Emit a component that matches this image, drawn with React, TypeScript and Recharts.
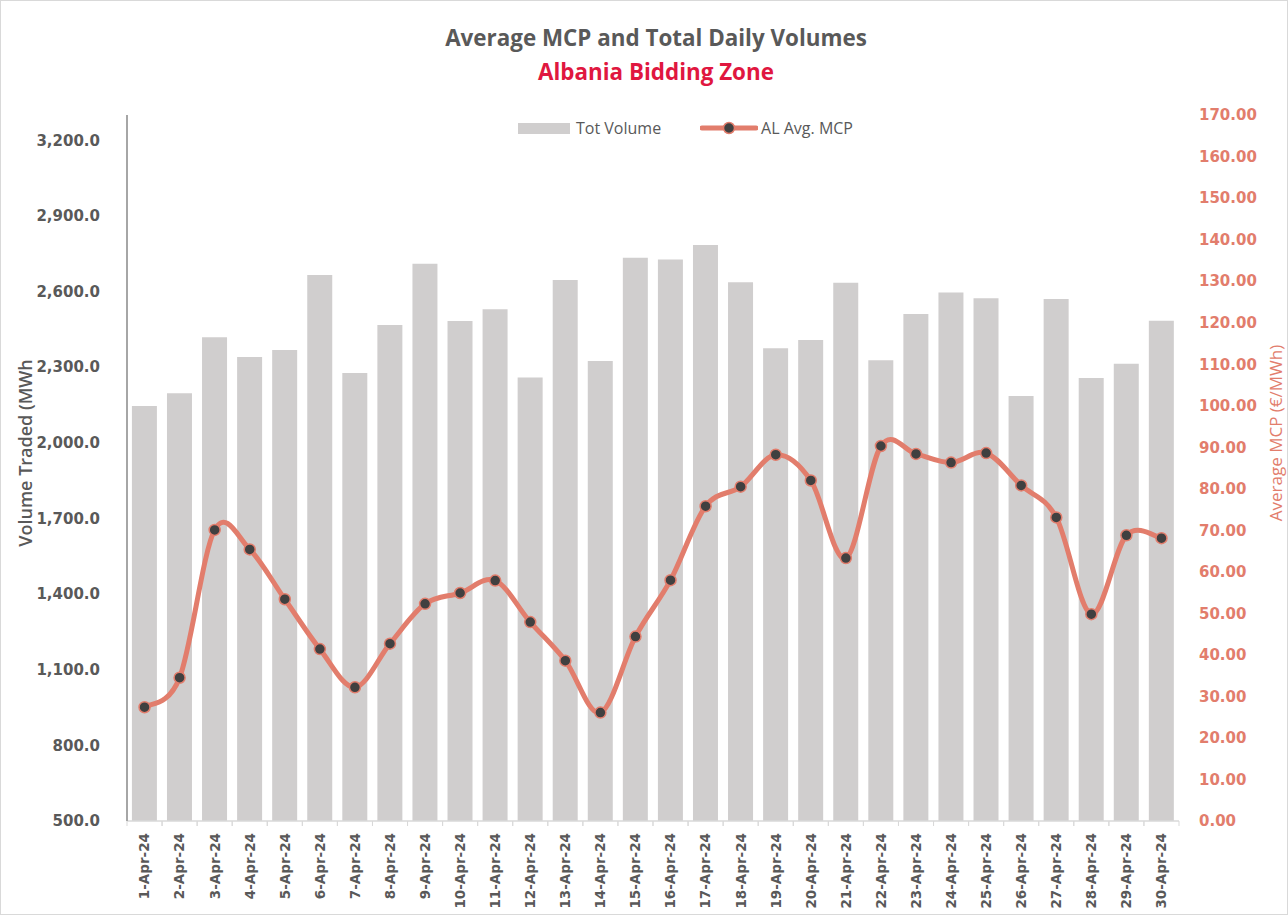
import { ComposedChart, Bar, Line, XAxis, YAxis } from "recharts";

const days = [
  "1-Apr-24", "2-Apr-24", "3-Apr-24", "4-Apr-24", "5-Apr-24", "6-Apr-24",
  "7-Apr-24", "8-Apr-24", "9-Apr-24", "10-Apr-24", "11-Apr-24", "12-Apr-24",
  "13-Apr-24", "14-Apr-24", "15-Apr-24", "16-Apr-24", "17-Apr-24", "18-Apr-24",
  "19-Apr-24", "20-Apr-24", "21-Apr-24", "22-Apr-24", "23-Apr-24", "24-Apr-24",
  "25-Apr-24", "26-Apr-24", "27-Apr-24", "28-Apr-24", "29-Apr-24", "30-Apr-24",
];

const totVolume = [
  2146, 2196, 2419, 2340, 2368, 2665, 2277, 2467, 2710, 2483, 2530, 2259, 2646,
  2324, 2734, 2727, 2784, 2637, 2375, 2408, 2635, 2327, 2511, 2596, 2573, 2186,
  2570, 2257, 2313, 2484,
];

const avgMcp = [
  27.4, 34.5, 70.1, 65.4, 53.4, 41.4, 32.2, 42.7, 52.3, 54.9, 57.9, 47.9, 38.6,
  26.1, 44.4, 58.0, 75.8, 80.5, 88.2, 82.0, 63.3, 90.3, 88.4, 86.3, 88.6, 80.8,
  73.1, 49.8, 68.8, 68.1,
];

const volumeTicks = [500, 800, 1100, 1400, 1700, 2000, 2300, 2600, 2900, 3200];
const mcpTicks = [0, 10, 20, 30, 40, 50, 60, 70, 80, 90, 100, 110, 120, 130, 140, 150, 160, 170];

const data = days.map((day, i) => ({ day, vol: totVolume[i], mcp: avgMcp[i] }));

const SALMON = "#e27d6c";
const GREY_TXT = "#595959";

// excel-ish smoothed line (catmull-rom)
const excelSmooth = (context: any) => {
  let pts: number[][] = [];
  return {
    areaStart() {},
    areaEnd() {},
    lineStart() {
      pts = [];
    },
    point(x: number, y: number) {
      pts.push([+x, +y]);
    },
    lineEnd() {
      const n = pts.length;
      if (!n) return;
      context.moveTo(pts[0][0], pts[0][1]);
      for (let i = 0; i < n - 1; i++) {
        const p0 = pts[Math.max(i - 1, 0)];
        const p1 = pts[i];
        const p2 = pts[i + 1];
        const p3 = pts[Math.min(i + 2, n - 1)];
        context.bezierCurveTo(
          p1[0] + (p2[0] - p0[0]) / 6,
          p1[1] + (p2[1] - p0[1]) / 6,
          p2[0] - (p3[0] - p1[0]) / 6,
          p2[1] - (p3[1] - p1[1]) / 6,
          p2[0],
          p2[1]
        );
      }
    },
  };
};

function DayTick({ x, y, payload }: any) {
  const half = payload?.offset || 17.5;
  return (
    <g>
      <line x1={x - half} x2={x - half} y1={y - 8} y2={y - 3} stroke="#d9d9d9" />
      <line x1={x + half} x2={x + half} y1={y - 8} y2={y - 3} stroke="#d9d9d9" />
      <text
        transform={`translate(${x},${y + 4}) rotate(-90)`}
        textAnchor="end"
        dy="0.36em"
        fontFamily="DejaVu Sans"
        fontWeight="bold"
        fontSize={13.5}
        fill={GREY_TXT}
      >
        {payload.value}
      </text>
    </g>
  );
}

function Legend() {
  return (
    <div
      style={{
        position: "absolute",
        top: 118,
        left: 518,
        display: "flex",
        alignItems: "center",
        height: 20,
        fontFamily: "Open Sans",
        fontSize: 16,
        color: GREY_TXT,
      }}
    >
      <span style={{ width: 52, height: 11, background: "#d0cece", marginRight: 6 }} />
      <span>Tot Volume</span>
      <svg width={58} height={20} style={{ marginLeft: 39, marginRight: 3 }}>
        <line x1={2} x2={56} y1={10} y2={10} stroke={SALMON} strokeWidth={5} strokeLinecap="round" />
        <circle cx={29} cy={10} r={5.5} fill="#404040" stroke={SALMON} strokeWidth={1.5} />
      </svg>
      <span>AL Avg. MCP</span>
    </div>
  );
}

export default function App() {
  return (
    <div style={{ position: "absolute", left: 0, top: 0, width: 1288, height: 915, background: "#fff" }}>
      <ComposedChart
        width={1288}
        height={915}
        data={data}
        margin={{ top: 115, right: 0, bottom: 0, left: 0 }}
        barCategoryGap="14%"
      >
        <XAxis
          dataKey="day"
          xAxisId="x"
          height={94}
          interval={0}
          tickLine={false}
          axisLine={{ stroke: "#d9d9d9", strokeWidth: 1.5 }}
          tick={<DayTick />}
        />
        <YAxis
          yAxisId="vol"
          orientation="left"
          width={127}
          domain={[500, 3300]}
          ticks={volumeTicks}
          allowDataOverflow
          tickLine={false}
          tickMargin={21}
          axisLine={{ stroke: "#a6a6a6", strokeWidth: 2 }}
          tick={{ fill: GREY_TXT, fontFamily: "DejaVu Sans", fontWeight: "bold", fontSize: 15 }}
          tickFormatter={(v: number) =>
            v.toLocaleString("en-US", { minimumFractionDigits: 1, maximumFractionDigits: 1 })
          }
        />
        <YAxis
          yAxisId="mcp"
          orientation="right"
          width={109}
          domain={[0, 170]}
          ticks={mcpTicks}
          tickLine={false}
          axisLine={false}
          tickMargin={14}
          tick={{ fill: SALMON, fontFamily: "DejaVu Sans", fontWeight: "bold", fontSize: 15 }}
          tickFormatter={(v: number) => v.toFixed(2)}
        />
        <Bar
          dataKey="vol"
          name="Tot Volume"
          xAxisId="x"
          yAxisId="vol"
          fill="#d0cece"
          isAnimationActive={false}
        />
        <Line
          dataKey="mcp"
          name="AL Avg. MCP"
          xAxisId="x"
          yAxisId="mcp"
          type={excelSmooth as any}
          stroke={SALMON}
          strokeWidth={5}
          dot={{ r: 5.5, fill: "#404040", stroke: SALMON, strokeWidth: 1.5 }}
          activeDot={false}
          isAnimationActive={false}
        />
      </ComposedChart>

      <div
        style={{
          position: "absolute",
          top: 27,
          left: 24,
          width: 1264,
          textAlign: "center",
          fontFamily: "Open Sans",
          fontWeight: "bold",
          fontSize: 22.4,
          lineHeight: "22px",
          color: GREY_TXT,
        }}
      >
        Average MCP and Total Daily Volumes
      </div>
      <div
        style={{
          position: "absolute",
          top: 61,
          left: 24,
          width: 1264,
          textAlign: "center",
          fontFamily: "Open Sans",
          fontWeight: "bold",
          fontSize: 22.4,
          lineHeight: "22px",
          color: "#e0173f",
        }}
      >
        Albania Bidding Zone
      </div>

      <Legend />

      <div
        style={{
          position: "absolute",
          left: 25,
          top: 453,
          transform: "translate(-50%, -50%) rotate(-90deg)",
          whiteSpace: "nowrap",
          fontFamily: "Open Sans",
          fontWeight: 600,
          fontSize: 18,
          color: GREY_TXT,
        }}
      >
        Volume Traded (MWh
      </div>
      <div
        style={{
          position: "absolute",
          left: 1275,
          top: 433,
          transform: "translate(-50%, -50%) rotate(-90deg)",
          whiteSpace: "nowrap",
          fontFamily: "Open Sans",
          fontSize: 17,
          color: SALMON,
        }}
      >
        Average MCP (€/MWh)
      </div>

      <div
        style={{
          position: "absolute",
          left: 0,
          top: 0,
          width: 1288,
          height: 915,
          boxSizing: "border-box",
          border: "1px solid #d9d9d9",
          pointerEvents: "none",
        }}
      />
    </div>
  );
}
